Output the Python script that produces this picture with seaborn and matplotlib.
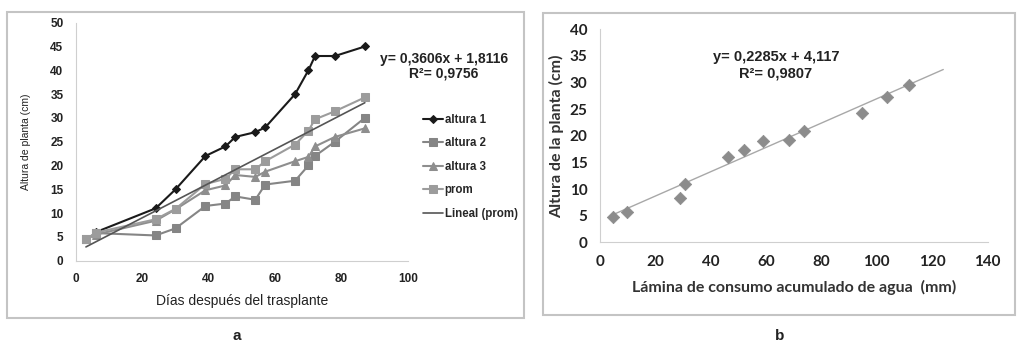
import numpy as np
import pandas as pd
import matplotlib
matplotlib.use("Agg")
import matplotlib.pyplot as plt
from matplotlib.patches import Rectangle
import seaborn as sns

# panel a: plant height vs days after transplant
dias = [3, 6, 24, 30, 39, 45, 48, 54, 57, 66, 70, 72, 78, 87]
altura1 = [np.nan, 6, 11, 15, 22, 24, 26, 27, 28, 35, 40, 43, 43, 45]
altura2 = [4.5, 5.8, 5.3, 6.8, 11.5, 12, 13.5, 12.8, 16, 16.8, 20, 22, 25, 30]
altura3 = [4.5, 5.5, 8.4, 10.8, 14.8, 15.8, 18, 17.6, 18.7, 20.9, 21.8, 24, 26, 27.8]
prom = [4.5, 5.9, 8.7, 10.9, 16.1, 17.2, 19.2, 19.2, 20.9, 24.4, 27.3, 29.7, 31.4, 34.3]
pend_a, inter_a = 0.3606, 1.8116

# panel b: plant height vs accumulated water use
lamina = [4.8, 9.6, 28.9, 30.8, 46.1, 52.1, 59, 68.4, 73.7, 94.6, 103.8, 111.5]
altura_b = [4.7, 5.7, 8.4, 11, 16, 17.3, 19.1, 19.2, 20.9, 24.2, 27.2, 29.5]
pend_b, inter_b = 0.2285, 4.117

sns.set_style("white")
plt.rcParams['font.family'] = ['Liberation Sans', 'DejaVu Sans']
calibri = ["Lato", "DejaVu Sans"]

fig = plt.figure(figsize=(10.2, 3.54), dpi=100)

# panel frames
fig.patches.append(Rectangle((7 / 1020, 1 - 318 / 354), 517 / 1020, 306 / 354,
                             transform=fig.transFigure, fill=False, ec="#c4c4c4", lw=1.5))
fig.patches.append(Rectangle((543 / 1020, 1 - 315 / 354), 472 / 1020, 302 / 354,
                             transform=fig.transFigure, fill=False, ec="#c4c4c4", lw=1.5))

# ---- panel a
ax1 = fig.add_axes([0.0745, 0.2636, 0.3255, 0.6723])
df = pd.DataFrame({"dias": dias, "a1": altura1, "a2": altura2, "a3": altura3, "prom": prom})
sns.lineplot(data=df, x="dias", y="a1", ax=ax1, color="#1a1a1a", lw=1.5,
             marker="D", ms=4.5, mec="#1a1a1a", label="altura 1")
sns.lineplot(data=df, x="dias", y="a2", ax=ax1, color="#858585", lw=1.5,
             marker="s", ms=6, mec="#858585", label="altura 2")
sns.lineplot(data=df, x="dias", y="a3", ax=ax1, color="#8e8e8e", lw=1.5,
             marker="^", ms=5.5, mec="#8e8e8e", label="altura 3")
sns.lineplot(data=df, x="dias", y="prom", ax=ax1, color="#9c9c9c", lw=1.5,
             marker="s", ms=6, mec="#9c9c9c", label="prom")
xt = np.array([dias[0], dias[-1]])
sns.lineplot(x=xt, y=pend_a * xt + inter_a, ax=ax1, color="#555555", lw=1.2,
             label="Lineal (prom)")

ax1.set_xlim(0, 100)
ax1.set_ylim(0, 50)
ax1.set_xticks(range(0, 101, 20))
ax1.set_yticks(range(0, 51, 5))
ax1.set_xlabel("Días después del trasplante", fontsize=10, color="#222222", labelpad=6)
ax1.set_ylabel("Altura de planta (cm)", fontsize=7.5, color="#222222", labelpad=14)
ax1.tick_params(length=0, labelsize=8.5, colors="#222222", pad=9)
for t in ax1.get_xticklabels() + ax1.get_yticklabels():
    t.set_fontweight("bold")
sns.despine(ax=ax1)
for s in ["left", "bottom"]:
    ax1.spines[s].set_color("#cfcfcf")
ax1.legend(loc="center left", bbox_to_anchor=(1.015, 0.395), frameon=False,
           handlelength=1.7, handletextpad=0.15, labelspacing=1.0,
           prop={"weight": "bold", "size": 8.3})
fig.text(444 / 1020, 1 - 59 / 354, "y= 0,3606x + 1,8116", ha="center", va="center",
         fontsize=10, weight="bold", color="#222222")
fig.text(444 / 1020, 1 - 74 / 354, "R²= 0,9756", ha="center", va="center",
         fontsize=10, weight="bold", color="#222222")

# ---- panel b
ax2 = fig.add_axes([0.5882, 0.3155, 0.3800, 0.6017])
dfb = pd.DataFrame({"lamina": lamina, "altura": altura_b})
xb = np.array([lamina[0], 124])
sns.lineplot(x=xb, y=pend_b * xb + inter_b, ax=ax2, color="#a8a8a8", lw=1.0)
sns.scatterplot(data=dfb, x="lamina", y="altura", ax=ax2, marker="D", s=40,
                color="#8c8c8c", edgecolor="#8c8c8c", zorder=3)
ax2.set_xlim(0, 140)
ax2.set_ylim(0, 40)
ax2.set_xticks(range(0, 141, 20))
ax2.set_yticks(range(0, 41, 5))
ax2.set_xlabel("Lámina de consumo acumulado de agua  (mm)", fontsize=11.5,
               family=calibri, weight="bold", color="#333333", labelpad=8)
ax2.set_ylabel("Altura de la planta (cm)", fontsize=11.5,
               family=calibri, weight="bold", color="#333333", labelpad=4)
ax2.tick_params(length=0, labelsize=11, colors="#222222", pad=9)
for t in ax2.get_xticklabels() + ax2.get_yticklabels():
    t.set_fontweight("bold")
    t.set_family(calibri)
sns.despine(ax=ax2)
for s in ["left", "bottom"]:
    ax2.spines[s].set_color("#cfcfcf")
fig.text(776 / 1020, 1 - 57 / 354, "y= 0,2285x + 4,117", ha="center", va="center",
         fontsize=10.5, weight="bold", color="#222222")
fig.text(776 / 1020, 1 - 73 / 354, "R²= 0,9807", ha="center", va="center",
         fontsize=10.5, weight="bold", color="#222222")

# panel letters
fig.text(237 / 1020, 1 - 336 / 354, "a", ha="center", va="center", fontsize=11,
         weight="bold", color="#222222")
fig.text(780 / 1020, 1 - 336 / 354, "b", ha="center", va="center", fontsize=11,
         weight="bold", color="#222222")

fig.savefig("out.png", dpi=100)
